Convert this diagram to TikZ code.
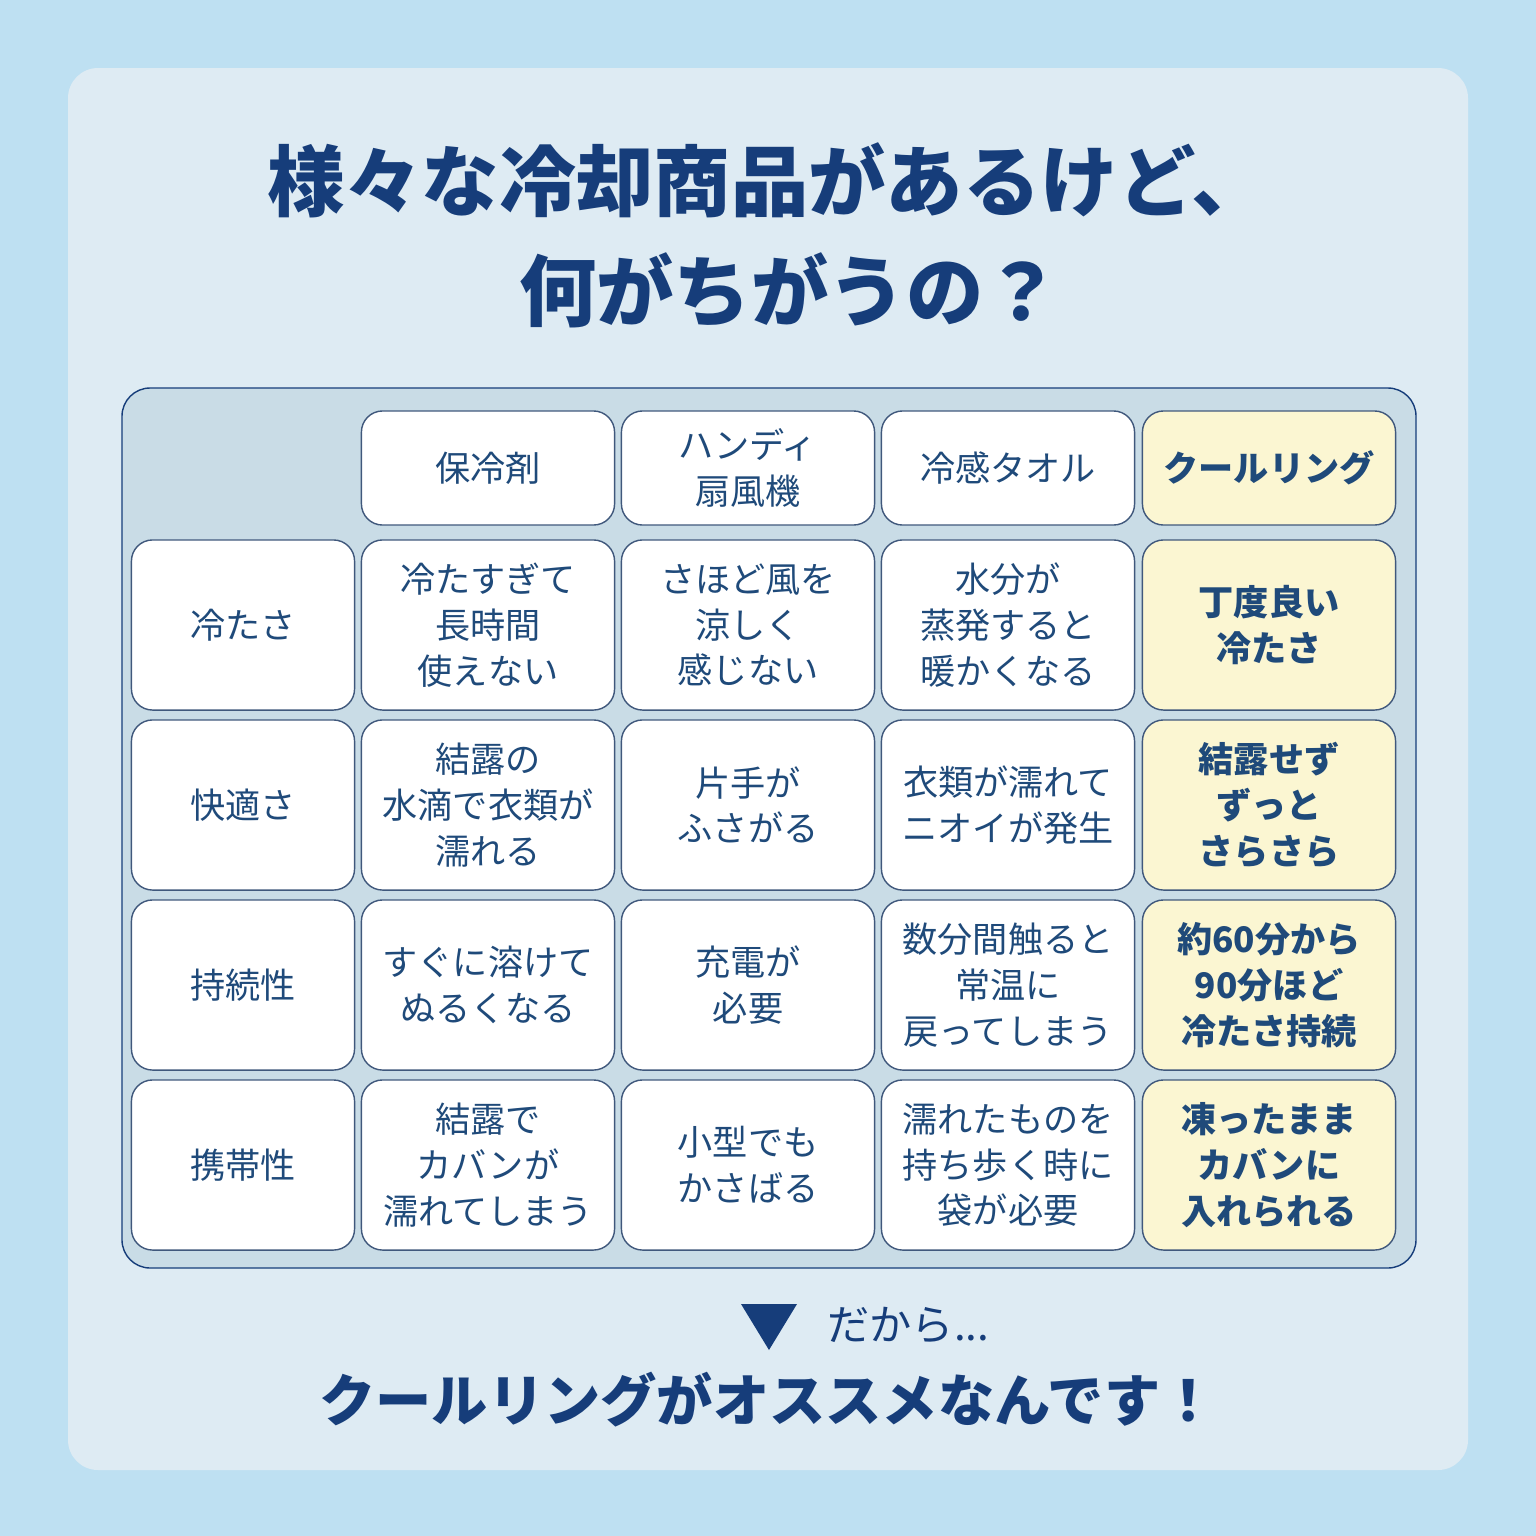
\documentclass[tikz,border=0pt]{standalone}
\usepackage{fontspec}
\setmainfont{Noto Sans CJK JP}
\usetikzlibrary{positioning,calc,shapes.geometric}
\definecolor{navy}{RGB}{22,61,122}
\definecolor{inktext}{RGB}{31,74,122}
\definecolor{sky}{RGB}{190,224,242}
\definecolor{panel}{RGB}{222,235,243}
\definecolor{tablebg}{RGB}{201,220,230}
\definecolor{pick}{RGB}{251,246,210}

\begin{document}
\begin{tikzpicture}[
    x=0.01cm, y=-0.01cm,
    cell/.style={draw=navy!60!gray, rounded corners=6pt, fill=white, minimum width=2.53cm, minimum height=1.7cm, align=center, text=inktext, font=\fontsize{10}{13}\selectfont, inner sep=1pt},
    headcell/.style={cell, minimum height=1.14cm},
    best/.style={fill=pick, font=\fontsize{10}{13}\selectfont\bfseries},
    rowhead/.style={cell, minimum width=2.23cm},
    title/.style={text=navy, font=\fontsize{22}{26}\selectfont\bfseries}
]
    % Background
    \fill[sky] (0,0) rectangle (1536,1536);
    \useasboundingbox (0,0) rectangle (1536,1536);
    \fill[panel, rounded corners=0.3cm] (68,68) rectangle (1468,1470);

    % Title
    \node[title] (title1) at (768,180) {様々な冷却商品があるけど、};
    \node[title] (title2) at (790,290) {何がちがうの？};

    % Table frame
    \draw[navy, fill=tablebg, rounded corners=8pt] (122,388) rectangle (1416,1268);

    % Header row
    \node[headcell] (h1) at (488,468) {保冷剤};
    \node[headcell] (h2) at (748,468) {ハンディ\\扇風機};
    \node[headcell] (h3) at (1008,468) {冷感タオル};
    \node[headcell, best] (h4) at (1269,468) {クールリング};

    % Row heads
    \node[rowhead] (r1) at (243,625) {冷たさ};
    \node[rowhead] (r2) at (243,805) {快適さ};
    \node[rowhead] (r3) at (243,985) {持続性};
    \node[rowhead] (r4) at (243,1165) {携帯性};

    % Row 1
    \node[cell] (c11) at (488,625) {冷たすぎて\\長時間\\使えない};
    \node[cell] (c12) at (748,625) {さほど風を\\涼しく\\感じない};
    \node[cell] (c13) at (1008,625) {水分が\\蒸発すると\\暖かくなる};
    \node[cell, best] (c14) at (1269,625) {丁度良い\\冷たさ};

    % Row 2
    \node[cell] (c21) at (488,805) {結露の\\水滴で衣類が\\濡れる};
    \node[cell] (c22) at (748,805) {片手が\\ふさがる};
    \node[cell] (c23) at (1008,805) {衣類が濡れて\\ニオイが発生};
    \node[cell, best] (c24) at (1269,805) {結露せず\\ずっと\\さらさら};

    % Row 3
    \node[cell] (c31) at (488,985) {すぐに溶けて\\ぬるくなる};
    \node[cell] (c32) at (748,985) {充電が\\必要};
    \node[cell] (c33) at (1008,985) {数分間触ると\\常温に\\戻ってしまう};
    \node[cell, best] (c34) at (1269,985) {約60分から\\90分ほど\\冷たさ持続};

    % Row 4
    \node[cell] (c41) at (488,1165) {結露で\\カバンが\\濡れてしまう};
    \node[cell] (c42) at (748,1165) {小型でも\\かさばる};
    \node[cell] (c43) at (1008,1165) {濡れたものを\\持ち歩く時に\\袋が必要};
    \node[cell, best] (c44) at (1269,1165) {凍ったまま\\カバンに\\入れられる};

    % Conclusion
    \fill[navy] (741,1304) -- (797,1304) -- (769,1350) -- cycle;
    \node[text=navy, font=\fontsize{12}{14}\selectfont, anchor=west] (sothen) at (815,1325) {だから...};
    \node[text=navy, font=\fontsize{16}{19}\selectfont\bfseries] (answer) at (768,1400) {クールリングがオススメなんです！};
\end{tikzpicture}
\end{document}
